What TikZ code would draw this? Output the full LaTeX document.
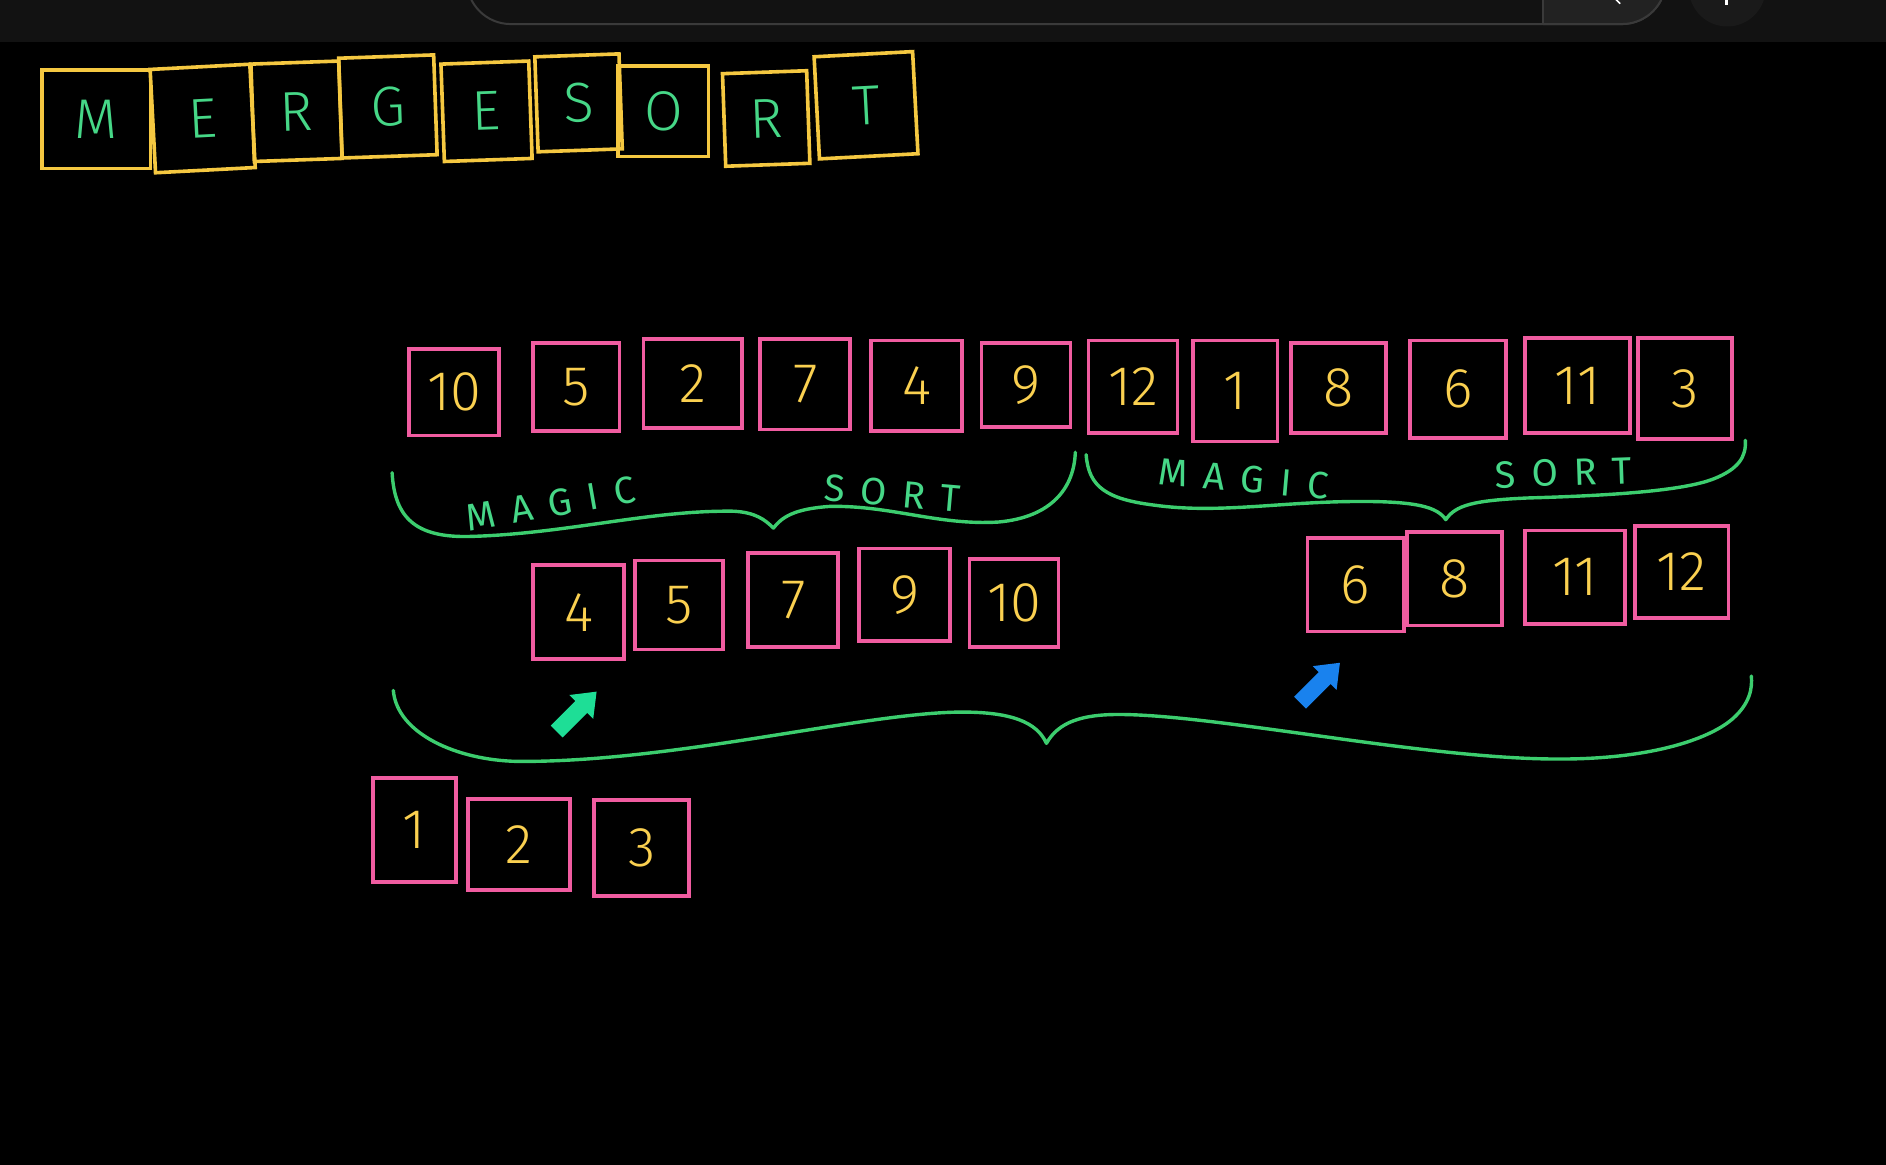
\documentclass[tikz,border=0pt]{standalone}
\usepackage{fontspec}
\setmainfont{Fira Sans}[UprightFont={* Light}]
\newfontfamily\spacedfont{Fira Sans}[LetterSpace=42]
\definecolor{bgbar}{HTML}{121212}
\definecolor{barline}{HTML}{3A3A3A}
\definecolor{btnfill}{HTML}{222222}
\definecolor{circfill}{HTML}{1A1A1A}
\definecolor{pinkline}{RGB}{240,92,160}
\definecolor{yline}{RGB}{245,200,65}
\definecolor{digit}{RGB}{250,208,80}
\definecolor{gtext}{RGB}{70,215,135}
\definecolor{gbrace}{RGB}{60,205,110}
\definecolor{garrow}{RGB}{30,222,150}
\definecolor{barrow}{RGB}{25,130,238}
\begin{document}
\begin{tikzpicture}[x=0.6014pt,y=-0.6014pt,
 pbox/.style 2 args={draw=pinkline,line width=1.9pt,minimum width=#1*0.6014pt,minimum height=#2*0.6014pt,inner sep=0pt,text=digit,font=\fontsize{28}{28}\selectfont},
 tbox/.style 2 args={draw=yline,line width=1.8pt,minimum width=#1*0.6014pt,minimum height=#2*0.6014pt,inner sep=0pt,text=gtext,font=\fontsize{28}{28}\selectfont},
 brace/.style={draw=gbrace,line width=1.7pt,line cap=round,line join=round},
 word/.style={text=gtext,font=\spacedfont\fontsize{19}{19}\selectfont,inner sep=0pt},
 blockarrow/.style={line join=round}]
\useasboundingbox (0,0) rectangle (1568,968);
\fill[black] (-20,-20) rectangle (1590,990);
\clip (0,-5) rectangle (1568,975);
% top bar
\fill[bgbar] (-5,-5) rectangle (1575,34.7);
\draw[barline,fill=bgbar,line width=1pt,rounded corners=22] (388,-40) rectangle (1385,20);
\begin{scope}
\clip (1283,-40) rectangle (1400,40);
\draw[barline,fill=btnfill,line width=1pt,rounded corners=22] (388,-40) rectangle (1385,20);
\end{scope}
\draw[barline,line width=1pt] (1283,-1) -- (1283,20);
\fill[circfill] (1436,-10) circle (32);
\fill[white] (1434,-1) rectangle (1437,4);
\draw[white,line width=0.8pt] (1343,-1) -- (1347,3);
% title
\node[tbox={90}{82}] (tM) at (80,99) {M};
\node[tbox={83}{86},rotate=3] (tE1) at (168.5,98.5) {E};
\node[tbox={73}{81},rotate=2] (tR1) at (246.5,92.5) {R};
\node[tbox={79}{83},rotate=2] (tG) at (322.5,88.5) {G};
\node[tbox={73}{81},rotate=2] (tE2) at (404.5,92.5) {E};
\node[tbox={70}{79},rotate=2] (tS) at (481,85.5) {S};
\node[tbox={75}{75}] (tO) at (551.5,92.5) {O};
\node[tbox={70}{77},rotate=2] (tR2) at (637,98.5) {R};
\node[tbox={82}{85},rotate=3] (tT) at (720,87.5) {T};
% row 1
\node[pbox={75}{72}] (a1) at (377.5,326) {10};
\node[pbox={72}{73}] (a2) at (479,321.5) {5};
\node[pbox={82}{74}] (a3) at (576,319) {2};
\node[pbox={75}{75}] (a4) at (669.5,319.5) {7};
\node[pbox={76}{75}] (a5) at (762,320.5) {4};
\node[pbox={74}{70}] (a6) at (853,320) {9};
\node[pbox={74}{77}] (a7) at (942,321.5) {12};
\node[pbox={70}{84}] (a8) at (1027,325) {1};
\node[pbox={79}{75}] (a9) at (1112.5,322.5) {8};
\node[pbox={80}{81}] (a10) at (1212,323.5) {6};
\node[pbox={87}{79}] (a11) at (1311.5,320.5) {11};
\node[pbox={78}{84}] (a12) at (1401,323) {3};
% row 2 left
\node[pbox={76}{78}] (b1) at (481,509) {4};
\node[pbox={73}{74}] (b2) at (564.5,503) {5};
\node[pbox={75}{78}] (b3) at (659.5,499) {7};
\node[pbox={76}{77}] (b4) at (752,494.5) {9};
\node[pbox={74}{73}] (b5) at (843,501.5) {10};
% row 2 right
\node[pbox={80}{78}] (c1) at (1127,486) {6};
\node[pbox={79}{78}] (c2) at (1209.5,481) {8};
\node[pbox={83}{78}] (c3) at (1309.5,480) {11};
\node[pbox={78}{77}] (c4) at (1398,475.5) {12};
% row 3
\node[pbox={69}{86}] (d1) at (344.5,690) {1};
\node[pbox={85}{76}] (d2) at (431.5,702) {2};
\node[pbox={79}{80}] (d3) at (533.5,705) {3};
% braces
\draw[brace] (326,393) .. controls (328,430) and (345,447) .. (390,446)
  .. controls (470,444) and (540,424) .. (610,425)
  .. controls (628,426) and (636,432) .. (643,439)
  .. controls (650,430) and (660,423) .. (690,421)
  .. controls (740,420) and (780,437) .. (830,434)
  .. controls (875,430) and (893,405) .. (894,376);
\draw[brace] (903,378) .. controls (905,405) and (920,415) .. (960,420)
  .. controls (1010,427) and (1060,418) .. (1120,417)
  .. controls (1180,416) and (1195,422) .. (1202,432)
  .. controls (1210,420) and (1225,416) .. (1270,414)
  .. controls (1340,412) and (1400,408) .. (1425,398)
  .. controls (1445,390) and (1452,380) .. (1451,366);
\draw[brace] (327,574) .. controls (330,610) and (380,632) .. (430,633)
  .. controls (560,634) and (720,592) .. (800,592)
  .. controls (840,592) and (862,600) .. (870,618)
  .. controls (880,600) and (900,594) .. (930,594)
  .. controls (1010,594) and (1180,630) .. (1290,631)
  .. controls (1370,632) and (1420,615) .. (1440,598)
  .. controls (1455,585) and (1457,572) .. (1456,562);
% words
\node[word,rotate=10] (w1) at (458,419) {MAGIC};
\node[word,rotate=-5] (w2) at (742,410) {SORT};
\node[word,rotate=-5] (w3) at (1034,398) {MAGIC};
\node[word,rotate=2] (w4) at (1300,393) {SORT};
% arrows
\fill[garrow,blockarrow,shift={(496,575)}] (0,0) -- (-2.8,22.6) -- (-7.8,17.6) -- (-28.3,38.1) -- (-38.1,28.3) -- (-17.6,7.8) -- (-22.6,2.8) -- cycle;
\fill[barrow,blockarrow,shift={(1114,551)}] (0,0) -- (-2.8,22.6) -- (-7.8,17.6) -- (-28.3,38.1) -- (-38.1,28.3) -- (-17.6,7.8) -- (-22.6,2.8) -- cycle;
\end{tikzpicture}
\end{document}
